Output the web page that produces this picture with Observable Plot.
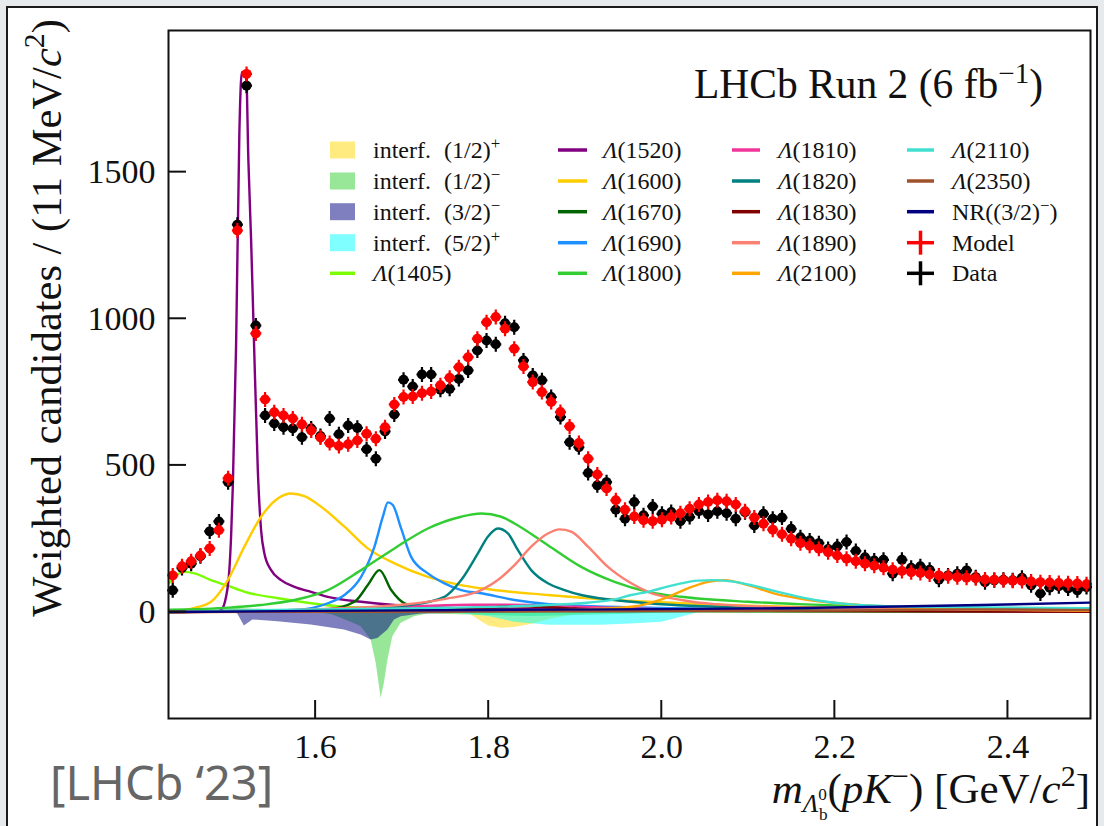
<!DOCTYPE html>
<html><head><meta charset="utf-8">
<script src="https://cdn.jsdelivr.net/npm/d3@7"></script>
<script src="https://cdn.jsdelivr.net/npm/@observablehq/plot@0.6"></script>
<style>
body{margin:0;background:#e6eaed;}
#wrap{position:relative;width:1104px;height:826px;overflow:hidden;}
#box{position:absolute;left:6px;top:6px;width:1088px;height:830px;border:2px solid #1b1b1b;background:#fff;}
#plot{position:absolute;left:0;top:0;}
</style></head><body>
<div id="wrap"><div id="box"></div><div id="plot"></div></div>
<script>
// ---- bins (GeV/c^2) ----
const mass = [1.4349,1.4456,1.4562,1.4669,1.4776,1.4882,1.4989,1.5096,1.5202,1.5309,
1.5416,1.5522,1.5629,1.5736,1.5842,1.5949,1.6056,1.6162,1.6269,1.6376,
1.6482,1.6589,1.6696,1.6802,1.6909,1.7016,1.7122,1.7229,1.7335,1.7442,
1.7549,1.7655,1.7762,1.7869,1.7975,1.8082,1.8189,1.8295,1.8402,1.8509,
1.8615,1.8722,1.8829,1.8935,1.9042,1.9149,1.9255,1.9362,1.9469,1.9575,
1.9682,1.9789,1.9895,2.0002,2.0109,2.0215,2.0322,2.0429,2.0535,2.0642,
2.0749,2.0855,2.0962,2.1069,2.1175,2.1282,2.1389,2.1495,2.1602,2.1709,
2.1815,2.1922,2.2028,2.2135,2.2242,2.2348,2.2455,2.2562,2.2668,2.2775,
2.2882,2.2988,2.3095,2.3202,2.3308,2.3415,2.3522,2.3628,2.3735,2.3842,
2.3948,2.4055,2.4162,2.4268,2.4375,2.4482,2.4588,2.4695,2.4802,2.4908];

const modelCounts = [125,156,173,193,217,279,456,1301,1835,950,
725,681,670,660,640,619,595,576,566,572,
585,608,591,630,708,733,735,746,752,773,
799,835,869,932,988,1006,966,898,837,784,
750,716,682,633,576,523,469,421,381,349,
326,313,310,315,324,337,352,367,375,381,
378,367,344,322,301,281,265,250,235,226,
216,204,193,182,173,165,158,151,144,140,
136,133,128,125,122,119,117,115,111,110,
108,107,106,104,102,101,99,98,97,95];

const dataCounts = [74,150,165,190,275,309,443,1321,1795,977,
670,643,630,626,596,626,600,660,606,636,
628,555,523,616,674,792,769,810,810,758,
761,795,824,892,926,913,985,971,858,807,
790,733,665,579,562,474,432,443,349,318,
375,330,360,335,341,310,324,344,333,344,
337,318,340,295,335,318,322,284,255,244,
235,215,224,239,208,187,176,178,131,178,
151,156,144,110,125,131,142,119,102,108,
110,108,117,91,63,83,88,80,74,85];

const xTicks = [1.6, 1.8, 2.0, 2.2, 2.4];
const yTicks = [0, 500, 1000, 1500];

// ---- model components [mass, value] ----
const L1405 = [[1.431,100],[1.44,128],[1.4483,137],[1.46,132],[1.479,109],[1.5,88],[1.518,69],[1.557,47],[1.595,30],[1.634,18],[1.7,11],[1.8,7],[2.0,4],[2.2,3],[2.5,2]];
const L1520 = [[1.431,0],[1.485,2],[1.4908,7],[1.4965,52],[1.5003,143],[1.5023,257],[1.5043,427],[1.5081,910],[1.5119,1637],[1.5147,1841],[1.5197,1841],[1.5223,1540],[1.5254,1273],[1.5281,995],[1.5332,484],[1.537,279],[1.5408,200],[1.5486,143],[1.5601,109],[1.5755,86],[1.5948,69],[1.6141,52],[1.6526,35],[1.6911,24],[1.7297,18],[1.7682,13],[1.9,8],[2.1,5],[2.5,3]];
const L1600 = [[1.431,0],[1.4599,14],[1.4792,35],[1.4985,109],[1.5177,223],[1.537,325],[1.5563,387],[1.5717,404],[1.587,395],[1.6064,359],[1.6333,291],[1.6603,217],[1.6911,166],[1.7297,120],[1.7682,92],[1.7913,81],[1.8684,58],[1.9454,41],[2.0225,30],[2.2,15],[2.5,8]];
const L1670 = [[1.431,0],[1.55,5],[1.6141,10],[1.6449,35],[1.6603,92],[1.6738,143],[1.6873,75],[1.7027,30],[1.722,18],[1.7682,10],[2.0,3],[2.5,1]];
const L1690 = [[1.431,0],[1.5,3],[1.5755,7],[1.6141,30],[1.6333,58],[1.6526,120],[1.668,223],[1.6777,325],[1.6835,374],[1.6892,365],[1.6988,285],[1.7104,188],[1.7297,132],[1.7489,98],[1.7682,75],[1.7913,64],[1.8298,41],[1.87,27],[2.0,14],[2.2,8],[2.5,4]];
const L1800 = [[1.431,8],[1.5,15],[1.537,24],[1.5755,41],[1.6141,75],[1.6526,143],[1.6911,217],[1.7297,285],[1.7682,325],[1.7913,336],[1.8145,325],[1.8298,302],[1.8684,228],[1.9069,154],[1.9454,103],[1.9841,69],[2.0225,52],[2.0997,35],[2.1575,27],[2.3,15],[2.5,10]];
const L1810 = [[1.431,0],[1.6,8],[1.7,18],[1.78,25],[1.82,25],[1.9,18],[2.0,10],[2.2,5],[2.5,2]];
const L1820 = [[1.431,0],[1.6,5],[1.7104,25],[1.7489,52],[1.7682,109],[1.7875,200],[1.799,257],[1.8106,285],[1.8222,268],[1.8338,211],[1.8491,143],[1.8684,98],[1.8876,75],[1.9069,58],[1.9454,41],[1.9841,30],[2.1,15],[2.3,8],[2.5,5]];
const L1830 = [[1.431,0],[1.7,5],[1.8,15],[1.83,20],[1.9,12],[2.0,5],[2.5,1]];
const L1890 = [[1.431,0],[1.6,10],[1.7,25],[1.75,45],[1.7913,75],[1.8106,109],[1.8298,160],[1.8491,223],[1.8684,268],[1.8818,282],[1.8954,274],[1.9147,223],[1.9378,154],[1.9647,98],[1.9841,69],[2.0225,41],[2.061,27],[2.2,12],[2.5,5]];
const L2100 = [[1.431,0],[1.8,4],[1.9,8],[1.9647,18],[2.0032,47],[2.0303,81],[2.0534,103],[2.0726,109],[2.0997,92],[2.1304,63],[2.1575,47],[2.25,20],[2.4,8],[2.5,5]];
const L2110 = [[1.431,0],[1.5,5],[1.7,12],[1.8684,24],[1.9069,30],[1.9454,43],[1.9647,58],[1.9841,69],[2.0032,84],[2.0225,98],[2.0419,107],[2.061,109],[2.0842,103],[2.1073,89],[2.1381,66],[2.1767,41],[2.2153,27],[2.2923,18],[2.495,13]];
const L2350 = [[1.431,0],[2.0,3],[2.2,5],[2.35,9],[2.5,7]];
const NR32m = [[1.431,0],[1.6,4],[1.8,7],[2.0,10],[2.138,13],[2.2538,18],[2.3694,24],[2.495,32]];

// ---- interference terms [mass, value] ----
const I12p = [[1.431,0],[1.775,0],[1.79,-30],[1.8,-48],[1.815,-55],[1.83,-53],[1.85,-42],[1.87,-25],[1.9,-8],[1.95,0],[2.5,0]];
const I12m = [[1.431,0],[1.45,10],[1.5,13],[1.55,8],[1.6,0],[1.62,-10],[1.645,-40],[1.6526,-50],[1.6642,-95],[1.67,-175],[1.6738,-255],[1.6757,-295],[1.6795,-243],[1.6835,-164],[1.6892,-84],[1.6988,-38],[1.7142,-16],[1.7297,-7],[1.78,-10],[1.85,-15],[1.95,-8],[2.05,0],[2.5,0]];
const I32m = [[1.431,0],[1.505,0],[1.51,-7],[1.5177,-48],[1.5274,-27],[1.5563,-33],[1.5948,-44],[1.6333,-61],[1.6526,-78],[1.6642,-95],[1.6719,-90],[1.6835,-61],[1.6911,-27],[1.6988,-16],[1.722,-7],[1.8,-3],[1.9,0],[2.5,0]];
const I52p = [[1.431,0],[1.75,0],[1.8,-15],[1.83,-35],[1.87,-45],[1.93,-45],[1.97,-40],[2.0,-35],[2.03,-12],[2.045,0],[2.5,0]];

const SUP = {shift:-9, scale:0.7};
const lam = n => [["Λ",{italic:true}],["("+n+")"]];
const interf = (j, s) => [["interf."],["("+j+")",{dx:13}],[s,SUP]];
const fillSeries = [
  {parts:interf("1/2","+"), color:"#FFD700", pts:I12p},
  {parts:interf("1/2","−"), color:"#32CD32", pts:I12m},
  {parts:interf("3/2","−"), color:"#000080", pts:I32m},
  {parts:interf("5/2","+"), color:"#00FFFF", pts:I52p}
];
const lineSeries = [
  {parts:lam(1405), color:"#7CFC00", pts:L1405},
  {parts:lam(1520), color:"#800080", pts:L1520},
  {parts:lam(1600), color:"#FFCC00", pts:L1600},
  {parts:lam(1670), color:"#006400", pts:L1670},
  {parts:lam(1690), color:"#1E90FF", pts:L1690},
  {parts:lam(1800), color:"#32CD32", pts:L1800},
  {parts:lam(1810), color:"#F0359A", pts:L1810},
  {parts:lam(1820), color:"#008080", pts:L1820},
  {parts:lam(1830), color:"#800000", pts:L1830},
  {parts:lam(1890), color:"#FA8072", pts:L1890},
  {parts:lam(2100), color:"#FFA500", pts:L2100},
  {parts:lam(2110), color:"#40E0D0", pts:L2110},
  {parts:lam(2350), color:"#A0522D", pts:L2350},
  {parts:[["NR((3/2)"],["−",SUP],[")"]], color:"#000080", pts:NR32m}
];

const dataRows = mass.map((m,i)=>({m, v:dataCounts[i]}));
const modelRows = mass.map((m,i)=>({m, v:modelCounts[i]}));

const errSym = {draw(ctx){ ctx.moveTo(-5.5,0); ctx.lineTo(5.5,0); ctx.moveTo(0,-7.5); ctx.lineTo(0,7.5); }};
const SERIF = "Liberation Serif";

const plot = Plot.plot({
  width: 1104, height: 826,
  marginLeft: 168, marginRight: 14, marginTop: 30, marginBottom: 108,
  style: {background:"transparent", fontFamily:SERIF, fontSize:"34px", color:"#111"},
  x: {domain:[1.430, 2.4954], label:null},
  y: {domain:[-363, 1983], label:null},
  marks: [
    ...fillSeries.map(s => Plot.areaY(s.pts, {x:d=>d[0], y:d=>d[1], fill:s.color, fillOpacity:0.5, curve:"linear", clip:true})),
    ...lineSeries.map(s => Plot.line(s.pts, {x:d=>d[0], y:d=>d[1], stroke:s.color, strokeWidth:2.4, curve:"monotone-x", clip:true})),
    Plot.dot(dataRows, {x:"m", y:"v", symbol:errSym, stroke:"black", fill:"none", strokeWidth:2.2}),
    Plot.dot(dataRows, {x:"m", y:"v", r:5, fill:"black"}),
    Plot.dot(modelRows, {x:"m", y:"v", symbol:errSym, stroke:"#ff0000", fill:"none", strokeWidth:2.2}),
    Plot.dot(modelRows, {x:"m", y:"v", r:5, fill:"#ff0000"}),
    Plot.frame({stroke:"#111", strokeWidth:2}),
    Plot.axisX(xTicks, {tickSize:0, tickPadding:15, tickFormat:d3.format(".1f"), label:null, fontFamily:SERIF, fontSize:34, fill:"#111"}),
    Plot.axisY(yTicks, {tickSize:0, tickPadding:13, tickFormat:d3.format("d"), label:null, fontFamily:SERIF, fontSize:34, fill:"#111"})
  ]
});
document.getElementById("plot").appendChild(plot);

// inward ticks using Plot's scales
const xs = plot.scale("x"), ys = plot.scale("y");
const psvg = d3.select(plot);
const yb = ys.apply(ys.domain[0]), xl = xs.apply(xs.domain[0]);
xTicks.forEach(t => psvg.append("line").attr("x1", xs.apply(t)).attr("x2", xs.apply(t))
  .attr("y1", yb).attr("y2", yb-18).attr("stroke","#111").attr("stroke-width",2));
yTicks.forEach(t => psvg.append("line").attr("x1", xl).attr("x2", xl+18)
  .attr("y1", ys.apply(t)).attr("y2", ys.apply(t)).attr("stroke","#111").attr("stroke-width",2));

// ---- overlay texts & legend ----
const ov = d3.select("#wrap").append("svg").attr("width",1104).attr("height",826)
  .style("position","absolute").style("left",0).style("top",0);

function rich(x, y, parts, {size, anchor="start", family=SERIF, fill="#111", rotate=0}) {
  const t = ov.append("text").attr("x",x).attr("y",y).attr("text-anchor",anchor)
    .attr("font-family",family).attr("font-size",size).attr("fill",fill);
  if (rotate) t.attr("transform",`rotate(${rotate},${x},${y})`);
  let cur = 0;
  for (const [txt, o={}] of parts) {
    const sh = o.shift || 0;
    const ts = t.append("tspan").attr("dy", sh - cur).attr("font-size", o.scale ? size*o.scale : size).text(txt);
    if (o.italic) ts.attr("font-style","italic");
    if (o.dx) ts.attr("dx", o.dx);
    cur = sh;
  }
  return t;
}

// title
rich(1043, 98, [["LHCb Run 2 (6 fb"],["−1",{shift:-15,scale:0.7}],[")",{shift:0}]], {size:41.5, anchor:"end"});
// y label
rich(61, 318, [["Weighted candidates / (11 MeV/"],["c",{italic:true}],["2",{shift:-17,scale:0.7}],[")",{shift:0}]], {size:42.5, anchor:"middle", rotate:-90});
// x label
rich(1090, 803, [["m",{italic:true}],["Λ",{italic:true,shift:9,scale:0.6}],["0",{shift:-3,scale:0.4}],["b",{shift:17,scale:0.4,dx:-8}],["(",{shift:0}],["pK",{italic:true}],["−",{shift:-17,scale:0.7}],[") [GeV/",{shift:0}],["c",{italic:true}],["2",{shift:-17,scale:0.7}],["]",{shift:0}]], {size:43, anchor:"end"});
// caption
rich(50, 800, [["[LHCb ‘23]"]], {size:47, family:"Noto Sans", fill:"#666"});

// legend
const rowsY = [150, 181, 211.7, 242.7, 273.3];
const cols = [{sx:330, sw:25, tx:373}, {sx:558, sw:29, tx:603}, {sx:732, sw:28, tx:778}, {sx:907, sw:27, tx:952}];
const legendItems = [
  ...fillSeries.map(s => ({kind:"fill", ...s})),
  ...lineSeries.map(s => ({kind:"line", ...s})),
  {kind:"cross", color:"#ff0000", parts:[["Model"]]},
  {kind:"cross", color:"#000000", parts:[["Data"]]}
];
legendItems.forEach((it, k) => {
  const c = cols[Math.floor(k/5)], cy = rowsY[k%5];
  if (it.kind === "fill") {
    ov.append("rect").attr("x",c.sx).attr("y",cy-8.5).attr("width",c.sw).attr("height",17)
      .attr("fill",it.color).attr("fill-opacity",0.5);
  } else {
    ov.append("line").attr("x1",c.sx).attr("x2",c.sx+c.sw).attr("y1",cy).attr("y2",cy)
      .attr("stroke",it.color).attr("stroke-width",3.5);
    if (it.kind === "cross")
      ov.append("line").attr("x1",c.sx+c.sw/2).attr("x2",c.sx+c.sw/2).attr("y1",cy-12).attr("y2",cy+12)
        .attr("stroke",it.color).attr("stroke-width",3.5);
  }
  rich(c.tx, cy+8, it.parts, {size:24});
});
</script>
</body></html>
